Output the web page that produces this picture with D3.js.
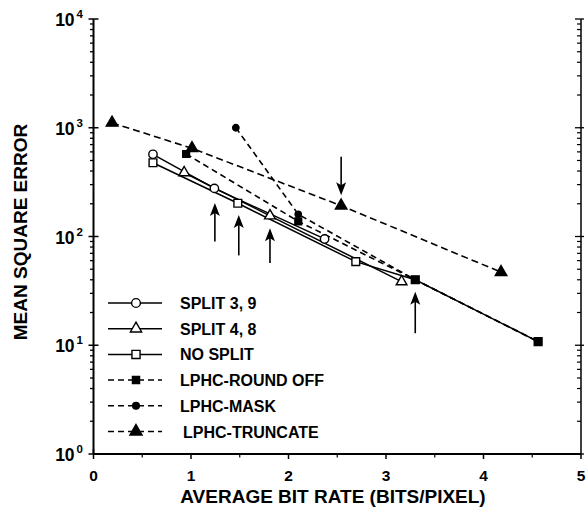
<!DOCTYPE html>
<html><head><meta charset="utf-8">
<script src="https://cdn.jsdelivr.net/npm/d3@7/dist/d3.min.js"></script>
<style>body{margin:0;background:#fff}svg{display:block}text{font-family:"Liberation Sans",Arial,sans-serif;font-weight:bold;fill:#000}</style>
</head><body><svg id="c" width="586" height="519"></svg>
<script>
// ---- data ----
const xTicks = [0, 1, 2, 3, 4, 5];
const yDecades = [0, 1, 2, 3, 4];
const seriesNames = ["SPLIT 3, 9", "SPLIT 4, 8", "NO SPLIT", "LPHC-ROUND OFF", "LPHC-MASK", "LPHC-TRUNCATE"];
const split39 = [[0.61, 570], [1.24, 277], [2.37, 95]];
const split48 = [[0.93, 386], [1.81, 155], [3.16, 38.4]];
const noSplit = [[0.61, 477], [1.48, 202], [2.69, 58.7], [3.3, 40], [4.56, 10.8]];
const roundOff = [[0.95, 574], [2.1, 138], [3.3, 40], [4.56, 10.8]];
const mask = [[1.46, 1000], [2.1, 160], [3.3, 40], [4.56, 10.8]];
const truncate = [[0.19, 1110], [1.01, 647], [2.54, 192], [4.18, 47]];
// arrows: x, tail value, tip value
const arrows = [[1.245, 90, 203], [1.49, 67, 158], [1.81, 57, 119], [3.3, 12.9, 31], [2.54, 540, 240]];
const xTitle = "AVERAGE BIT RATE (BITS/PIXEL)";
const yTitle = "MEAN SQUARE ERROR";

// ---- drawing ----
const svg = d3.select("#c");
const x = d3.scaleLinear().domain([0, 5]).range([93.5, 581]);
const y = d3.scaleLog().domain([1, 1e4]).range([454, 19]);
const X0 = x(0), X1 = x(5), Y0 = y(1), Y1 = y(1e4);

const g = svg.append("g");
g.append("line").attr("x1", X0).attr("x2", X0).attr("y1", Y1).attr("y2", Y0).attr("stroke", "#000").attr("stroke-width", 2);
g.append("line").attr("x1", X1).attr("x2", X1).attr("y1", Y1).attr("y2", Y0).attr("stroke", "#000").attr("stroke-width", 1.5);
g.append("line").attr("x1", X0).attr("x2", X1).attr("y1", Y0).attr("y2", Y0).attr("stroke", "#000").attr("stroke-width", 2);

const minors = [];
yDecades.slice(0, -1).forEach(d => { for (let k = 2; k <= 9; k++) minors.push(k * Math.pow(10, d)); });
const majors = yDecades.map(d => Math.pow(10, d));
majors.forEach(v => {
  g.append("line").attr("x1", X0 - 5).attr("x2", X0 + 5).attr("y1", y(v)).attr("y2", y(v)).attr("stroke", "#000").attr("stroke-width", 1.5);
  g.append("line").attr("x1", X1 - 6).attr("x2", X1 + 3).attr("y1", y(v)).attr("y2", y(v)).attr("stroke", "#000").attr("stroke-width", 1.3);
});
minors.forEach(v => {
  g.append("line").attr("x1", X0 - 3.5).attr("x2", X0).attr("y1", y(v)).attr("y2", y(v)).attr("stroke", "#000").attr("stroke-width", 1.3);
  g.append("line").attr("x1", X1 - 4).attr("x2", X1).attr("y1", y(v)).attr("y2", y(v)).attr("stroke", "#000").attr("stroke-width", 1.2);
});
yDecades.forEach(d => {
  const t = g.append("text").attr("x", 83).attr("y", y(Math.pow(10, d)) + 7).attr("text-anchor", "end").style("font-size", "17.5px");
  t.append("tspan").text("10");
  t.append("tspan").attr("dx", 2).attr("dy", -8).style("font-size", "11.5px").text(d);
});

xTicks.forEach(v => {
  g.append("line").attr("x1", x(v)).attr("x2", x(v)).attr("y1", Y0 - (v === 0 ? 5 : 0)).attr("y2", Y0 + 5).attr("stroke", "#000").attr("stroke-width", 1.5);
  g.append("text").attr("x", x(v)).attr("y", 481).attr("text-anchor", "middle").style("font-size", "15.5px").text(v);
});
d3.range(0.5, 5, 1).forEach(v => {
  g.append("line").attr("x1", x(v)).attr("x2", x(v)).attr("y1", Y0).attr("y2", Y0 + 3.5).attr("stroke", "#000").attr("stroke-width", 1.2);
});

g.append("text").attr("x", 333).attr("y", 503).attr("text-anchor", "middle").style("font-size", "19px").text(xTitle);
g.append("text").attr("transform", "translate(27,232) rotate(-90)").attr("text-anchor", "middle").style("font-size", "19px").text(yTitle);

const line = d3.line().x(d => x(d[0])).y(d => y(d[1]));
const series = [
  {name: seriesNames[0], data: split39, dash: null, mark: "circle", fill: "#fff"},
  {name: seriesNames[1], data: split48, dash: null, mark: "triangle", fill: "#fff"},
  {name: seriesNames[2], data: noSplit, dash: null, mark: "square", fill: "#fff"},
  {name: seriesNames[3], data: roundOff, dash: "6,4", mark: "square", fill: "#000"},
  {name: seriesNames[4], data: mask, dash: "6,4", mark: "circle", fill: "#000"},
  {name: seriesNames[5], data: truncate, dash: "7,4", mark: "triangle", fill: "#000"}
];
const symSize = {circle: 55, triangle: 50, square: 60};
const symType = {circle: d3.symbolCircle, triangle: d3.symbolTriangle, square: d3.symbolSquare};
function marker(sel, s, cx, cy, scale) {
  let size = symSize[s.mark] * (scale || 1);
  if (s.fill === "#000" && s.mark === "circle") size = 32 * (scale || 1);
  if (s.fill === "#000" && s.mark === "triangle") size = 58 * (scale || 1);
  if (s.fill === "#000" && s.mark === "square") size = 46 * (scale || 1);
  sel.append("path").attr("d", d3.symbol().type(symType[s.mark]).size(size)())
    .attr("transform", `translate(${cx},${cy})`)
    .attr("fill", s.fill).attr("stroke", "#000").attr("stroke-width", 1.4);
}
series.forEach(s => {
  g.append("path").datum(s.data).attr("d", line).attr("fill", "none").attr("stroke", "#000")
    .attr("stroke-width", s.dash ? 1.6 : 1.5).attr("stroke-dasharray", s.dash);
});
series.forEach(s => { s.data.forEach(d => marker(g, s, x(d[0]), y(d[1]))); });

arrows.forEach(a => {
  const ax = x(a[0]), yt = y(a[1]), yh = y(a[2]);
  const dir = yh < yt ? 1 : -1;
  g.append("line").attr("x1", ax).attr("x2", ax).attr("y1", yt).attr("y2", yh + dir * 8).attr("stroke", "#000").attr("stroke-width", 1.6);
  g.append("path").attr("d", `M${ax},${yh} L${ax - 5},${yh + dir * 13} L${ax},${yh + dir * 10} L${ax + 5},${yh + dir * 13} Z`).attr("fill", "#000");
});

const legY0 = 303, legStep = 25.7;
series.forEach((s, i) => {
  const ly = legY0 + i * legStep;
  g.append("line").attr("x1", 108).attr("x2", 162).attr("y1", ly).attr("y2", ly).attr("stroke", "#000")
    .attr("stroke-width", 1.5).attr("stroke-dasharray", s.dash ? "6,4" : null);
  marker(g, s, 136, ly, 1.1);
  g.append("text").attr("x", i === 5 ? 183 : 180).attr("y", ly + 6).style("font-size", "16px").text(s.name);
});
</script></body></html>
